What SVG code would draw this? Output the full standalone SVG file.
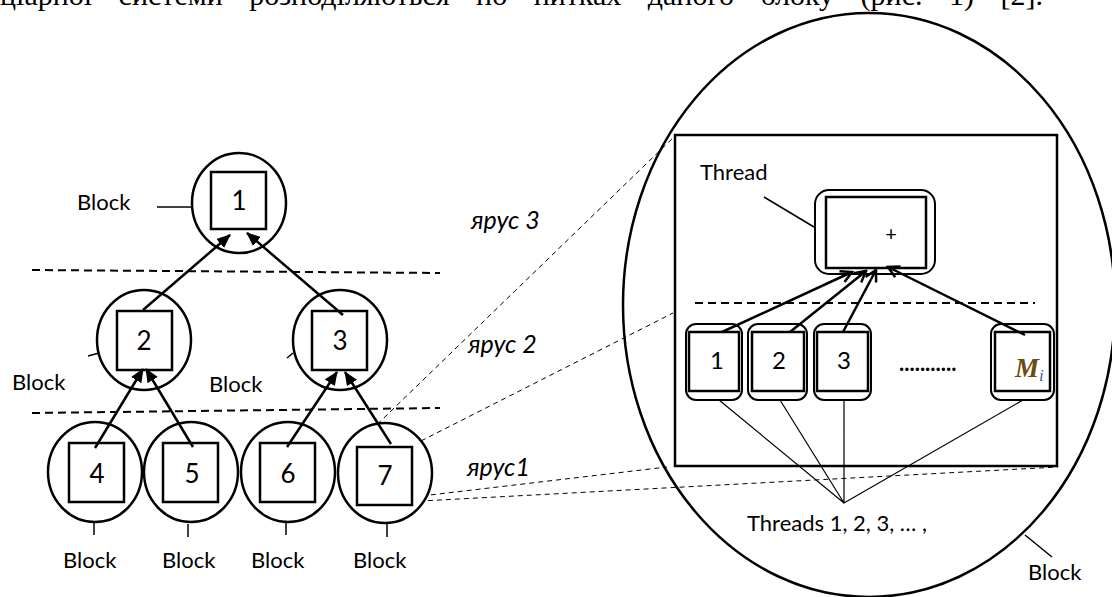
<svg xmlns="http://www.w3.org/2000/svg" width="1112" height="597" viewBox="0 0 1112 597">
<style>
.bg{fill:#fff}
.sh{fill:#fff;stroke:#000;stroke-width:2.5}
.th{fill:none;stroke:#000;stroke-width:2}
.lbl{font-family:Lato,"Liberation Sans",sans-serif;font-size:22px;fill:#000}
.num{font-family:Lato,"Liberation Sans",sans-serif;font-size:26px;fill:#000;text-anchor:middle}
.tnum{font-family:Lato,"Liberation Sans",sans-serif;font-size:24px;fill:#000;text-anchor:middle}
.tier{font-family:Lato,"Liberation Sans",sans-serif;font-size:25px;font-style:italic;fill:#000}
.thin{stroke:#000;stroke-width:1.2;fill:none}
.tick{stroke:#000;stroke-width:1.5;fill:none}
.dash{stroke:#000;stroke-width:2;stroke-dasharray:8 5;fill:none}
.zdash{stroke:#000;stroke-width:1;stroke-dasharray:5 4;fill:none}
.arr{stroke:#000;stroke-width:2.5;fill:none;marker-end:url(#fa)}
.oarr{stroke:#000;stroke-width:2.5;fill:none;marker-end:url(#oa)}
</style>
<defs>
<marker id="fa" markerUnits="userSpaceOnUse" markerWidth="14" markerHeight="12" refX="13" refY="6" orient="auto">
<path d="M0,0 L14,6 L0,12 z" fill="#000"/>
</marker>
<marker id="oa" markerUnits="userSpaceOnUse" markerWidth="14" markerHeight="14" refX="12" refY="7" orient="auto">
<path d="M1,1 L12,7 L1,13" fill="none" stroke="#000" stroke-width="2.5"/>
</marker>
</defs>
<rect class="bg" x="0" y="0" width="1112" height="597"/>
<text x="0" y="5" font-family="'Liberation Serif',serif" font-size="30" word-spacing="19">ціарної системи розподіляються по нитках даного блоку (рис. 1) [2].</text>

<g id="tiers">
<path class="dash" d="M32,270 L440,273"/>
<path class="dash" d="M32,413 L440,408"/>
<text class="tier" x="471" y="229">ярус 3</text>
<text class="tier" x="468" y="353">ярус 2</text>
<text class="tier" x="467" y="476">ярус1</text>
</g>

<g id="zoom-lines">
<path class="zdash" d="M358,443 L676,135"/>
<path class="zdash" d="M413,445 L673,313"/>
<path class="zdash" d="M365,504 L1058,467"/>
<path class="zdash" d="M413,497 L667,467"/>
</g>

<g id="n1"><ellipse class="sh" cx="239" cy="203" rx="47" ry="50"/><rect class="sh" x="211" y="172" width="55" height="57"/><text class="num" x="239" y="210">1</text></g>
<g id="n2"><ellipse class="sh" cx="144" cy="340" rx="47" ry="50"/><rect class="sh" x="117" y="311" width="55" height="59"/><text class="num" x="144" y="350">2</text></g>
<g id="n3"><ellipse class="sh" cx="340" cy="340" rx="47" ry="50"/><rect class="sh" x="312" y="311" width="55" height="59"/><text class="num" x="340" y="350">3</text></g>
<g id="n4"><ellipse class="sh" cx="95" cy="472" rx="47" ry="50"/><rect class="sh" x="69" y="443" width="55" height="59"/><text class="num" x="97" y="483">4</text></g>
<g id="n5"><ellipse class="sh" cx="191" cy="472" rx="47" ry="50"/><rect class="sh" x="163" y="443" width="55" height="59"/><text class="num" x="192" y="483">5</text></g>
<g id="n6"><ellipse class="sh" cx="288" cy="472" rx="47" ry="50"/><rect class="sh" x="260" y="443" width="55" height="59"/><text class="num" x="288" y="483">6</text></g>
<g id="n7"><ellipse class="sh" cx="385" cy="473" rx="47" ry="50"/><rect class="sh" x="357" y="447" width="55" height="58"/><text class="num" x="385" y="485">7</text></g>

<g id="block-labels">
<path class="tick" d="M157,207 L193,207"/><text class="lbl" x="77" y="210">Block</text>
<path class="tick" d="M88,356 L99,353"/><text class="lbl" x="12" y="390">Block</text>
<path class="tick" d="M287,358 L293,353"/><text class="lbl" x="209" y="392">Block</text>
<path class="tick" d="M94,523 L94,535"/><text class="lbl" x="63" y="568">Block</text>
<path class="tick" d="M188,524 L188,537"/><text class="lbl" x="162" y="568">Block</text>
<path class="tick" d="M286,522 L286,535"/><text class="lbl" x="251" y="568">Block</text>
<path class="tick" d="M387,523 L387,537"/><text class="lbl" x="353" y="568">Block</text>
</g>

<g id="block-detail">
<ellipse cx="869" cy="305" rx="246" ry="292" fill="none" stroke="#000" stroke-width="2.5"/>
<rect x="675" y="135" width="382" height="331" fill="#fff" stroke="#000" stroke-width="2.5"/>
<path class="dash" d="M695,303 L1035,303"/>
<path class="tick" d="M1025,535 L1052,557"/>
<text class="lbl" x="1028" y="580">Block</text>
</g>

<g id="thread">
<text class="lbl" x="700" y="180" font-size="24">Thread</text>
<path class="tick" d="M764,197 L814,227"/>
<rect class="th" x="815" y="190" width="120" height="84" rx="14"/>
<rect class="sh" x="826" y="197" width="100" height="71"/>
<text x="891" y="241" font-family="Lato,'Liberation Sans',sans-serif" font-size="20" text-anchor="middle">+</text>
</g>

<g id="t1"><rect class="th" x="686" y="324" width="56" height="76" rx="10"/><rect class="sh" x="689" y="332" width="50" height="59"/><text class="tnum" x="717" y="369">1</text></g>
<g id="t2"><rect class="th" x="748" y="324" width="59" height="76" rx="10"/><rect class="sh" x="752" y="332" width="52" height="59"/><text class="tnum" x="779" y="369">2</text></g>
<g id="t3"><rect class="th" x="814" y="324" width="57" height="76" rx="10"/><rect class="sh" x="817" y="332" width="51" height="59"/><text class="tnum" x="844" y="369">3</text></g>
<g id="tM"><rect class="th" x="991" y="324" width="63" height="76" rx="10"/><rect class="sh" x="995" y="332" width="55" height="59"/><text x="1015" y="377" font-family="'Liberation Serif',serif" font-size="27" font-style="italic" font-weight="bold" fill="#6e4a12">M<tspan font-size="17" dy="4" fill="#3d5fa0" font-weight="normal">i</tspan></text></g>
<text class="lbl" x="899" y="371" font-size="24" font-weight="bold">...........</text>

<g id="threads-label">
<path class="thin" d="M719,400 L844,503 L780,400 M844,400 L844,503 L1023,400"/>
<text class="lbl" x="747" y="531" font-size="23">Threads 1, 2, 3, … ,</text>
</g>

<g id="connectors">
<path class="arr" d="M143,310 L230,235"/>
<path class="arr" d="M343,315 L247,233"/>
<path class="arr" d="M95,448 L143,369"/>
<path class="arr" d="M193,447 L146,369"/>
<path class="arr" d="M287,447 L337,372"/>
<path class="arr" d="M391,444 L345,372"/>
<path class="oarr" d="M722,332 L852,272"/>
<path class="oarr" d="M790,332 L866,271"/>
<path class="oarr" d="M843,332 L876,270"/>
<path class="oarr" d="M1025,335 L888,267"/>
</g>
</svg>
